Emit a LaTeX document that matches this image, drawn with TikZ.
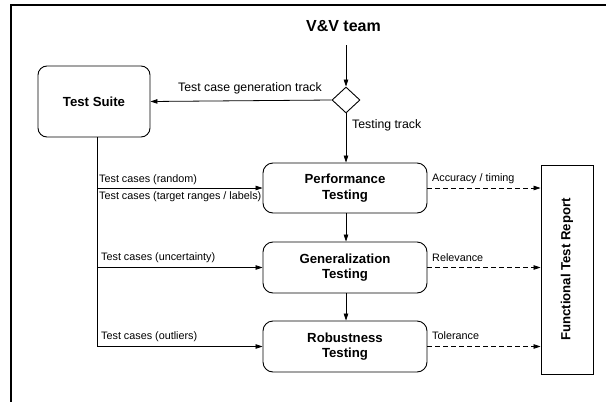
\documentclass[tikz,border=0pt]{standalone}
\usepackage{fontspec}
\setmainfont{Liberation Sans}
\usetikzlibrary{shapes.geometric,arrows.meta}
\tikzset{
  box/.style={draw, line width=0.9pt, rounded corners=10pt, font=\fontsize{13.2}{15.5}\selectfont\bfseries, align=center, inner sep=0pt},
  lbl/.style={font=\fontsize{10.8}{12.5}\selectfont, inner sep=0pt, anchor=west},
  tlbl/.style={font=\fontsize{12.3}{14}\selectfont, inner sep=0pt},
  arr/.style={line width=0.8pt, -{Triangle[length=7pt,width=4.5pt]}},
  darr/.style={arr, dash pattern=on 5pt off 3pt}
}
\begin{document}
\begin{tikzpicture}[x=1pt,y=-1pt]
\useasboundingbox (0,0) rectangle (606,402);
% frame
\draw[line width=1.6pt] (606,5) -- (11,5) -- (11,402);
% nodes
\node[font=\fontsize{16}{18}\selectfont\bfseries, inner sep=0pt] (team) at (343.5,26) {V\&V team};
\node[draw, line width=0.9pt, diamond, minimum width=28pt, minimum height=26pt, inner sep=0pt] (dia) at (346,100) {};
\node[box, rounded corners=9pt, minimum width=112pt, minimum height=71pt] (ts) at (94,101.5) {Test Suite};
\node[box, minimum width=164pt, minimum height=50pt] (perf) at (345,188) {Performance\\Testing};
\node[box, minimum width=164pt, minimum height=51pt] (gen) at (345,267.5) {Generalization\\Testing};
\node[box, minimum width=164pt, minimum height=51pt] (rob) at (345,346.5) {Robustness\\Testing};
\node[draw, line width=0.9pt, minimum width=52pt, minimum height=209pt, inner sep=0pt] (rep) at (567,269.5) {};
\node[rotate=90, font=\fontsize{13.2}{15.5}\selectfont\bfseries, inner sep=0pt] (reptxt) at (rep.center) {Functional Test Report};
% top connectors
\coordinate (tstart) at (346,45);
\draw[arr] (tstart) -- (dia.north);
\draw[arr] (dia.west) -- (ts.east);
\node[tlbl] (gentrack) at (250,88) {Test case generation track};
\draw[arr] (dia.south) -- (dia.south |- perf.north);
\node[tlbl, anchor=west] (testtrack) at (352,125) {Testing track};
% between boxes
\draw[arr] (perf.south -| dia.south) -- (gen.north -| dia.south);
\draw[arr] (gen.south -| dia.south) -- (rob.north -| dia.south);
% test suite branches
\coordinate (tsb) at ([xshift=3pt]ts.south);
\draw[line width=0.8pt] (tsb) -- (tsb |- rob.west);
\draw[arr] (tsb |- perf.west) -- (perf.west);
\draw[arr] (tsb |- gen.west) -- (gen.west);
\draw[arr] (tsb |- rob.west) -- (rob.west);
\node[lbl] (l1) at (99,179.5) {Test cases (random)};
\node[lbl] (l2) at (99,197) {Test cases (target ranges / labels)};
\node[lbl] (l3) at (101,258) {Test cases (uncertainty)};
\node[lbl] (l4) at (101,337) {Test cases (outliers)};
% dashed outputs
\draw[darr] (perf.east) -- (perf.east -| rep.west);
\draw[darr] (gen.east) -- (gen.east -| rep.west);
\draw[darr] (rob.east) -- (rob.east -| rep.west);
\node[lbl] (r1) at (432,179) {Accuracy / timing};
\node[lbl] (r2) at (432,258) {Relevance};
\node[lbl] (r3) at (432,335.5) {Tolerance};
\end{tikzpicture}
\end{document}
